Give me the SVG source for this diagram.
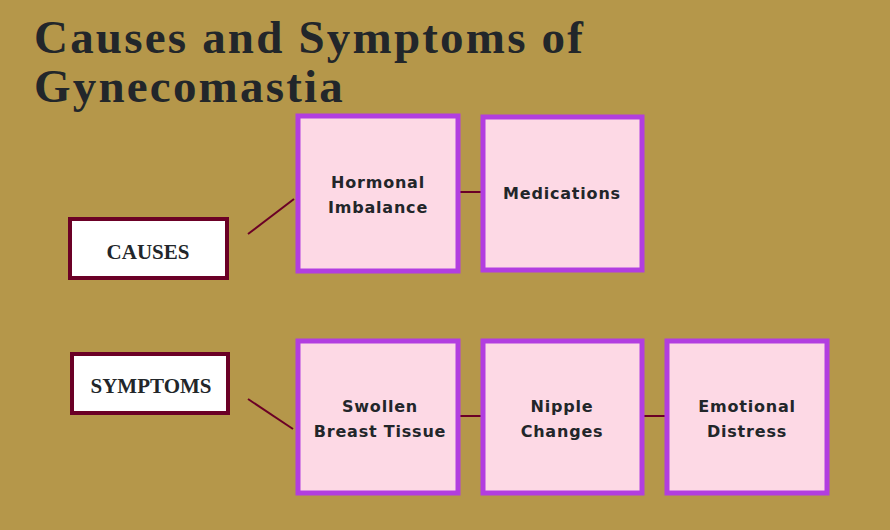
<svg xmlns="http://www.w3.org/2000/svg" width="890" height="530" viewBox="0 0 890 530">
<style>
.t{font-family:"Liberation Serif",serif;font-weight:bold;font-size:47px;letter-spacing:2.2px;fill:#22262a}
.lb{fill:#fff;stroke:#6b0026;stroke-width:4}
.lt{font-family:"Liberation Serif",serif;font-weight:bold;font-size:21px;fill:#22262a;text-anchor:middle}
.b{fill:#fdd9e5;stroke:#b23ee0;stroke-width:5}
.bt{font-family:"DejaVu Sans",sans-serif;font-weight:bold;font-size:16px;letter-spacing:0.8px;fill:#22262a;text-anchor:middle}
.c{stroke:#6b0026;stroke-width:2;fill:none}
</style>
<rect width="890" height="530" fill="#b5974a"/>
<text class="t" x="34" y="53">Causes and Symptoms of</text>
<text class="t" x="34" y="102">Gynecomastia</text>
<g id="connectors">
<line class="c" x1="248" y1="234" x2="294" y2="199"/>
<line class="c" x1="248" y1="399" x2="293" y2="429"/>
<line class="c" x1="459" y1="192" x2="481" y2="192"/>
<line class="c" x1="459" y1="416" x2="481" y2="416"/>
<line class="c" x1="643" y1="416" x2="665" y2="416"/>
</g>
<g id="causes"><rect class="lb" x="70" y="219" width="157" height="59"/><text class="lt" x="148" y="259">CAUSES</text></g>
<g id="symptoms"><rect class="lb" x="72" y="354" width="156" height="59"/><text class="lt" x="151" y="393">SYMPTOMS</text></g>
<g id="hormonal"><rect class="b" x="298" y="116" width="160" height="155"/><text class="bt" x="378" y="188">Hormonal</text><text class="bt" x="378" y="213">Imbalance</text></g>
<g id="medications"><rect class="b" x="483" y="117" width="159" height="153"/><text class="bt" x="562" y="199">Medications</text></g>
<g id="swollen"><rect class="b" x="298" y="341" width="160" height="152"/><text class="bt" x="380" y="412">Swollen</text><text class="bt" x="380" y="437">Breast Tissue</text></g>
<g id="nipple"><rect class="b" x="483" y="341" width="159" height="152"/><text class="bt" x="562" y="412">Nipple</text><text class="bt" x="562" y="437">Changes</text></g>
<g id="emotional"><rect class="b" x="667" y="341" width="160" height="152"/><text class="bt" x="747" y="412">Emotional</text><text class="bt" x="747" y="437">Distress</text></g>
</svg>
